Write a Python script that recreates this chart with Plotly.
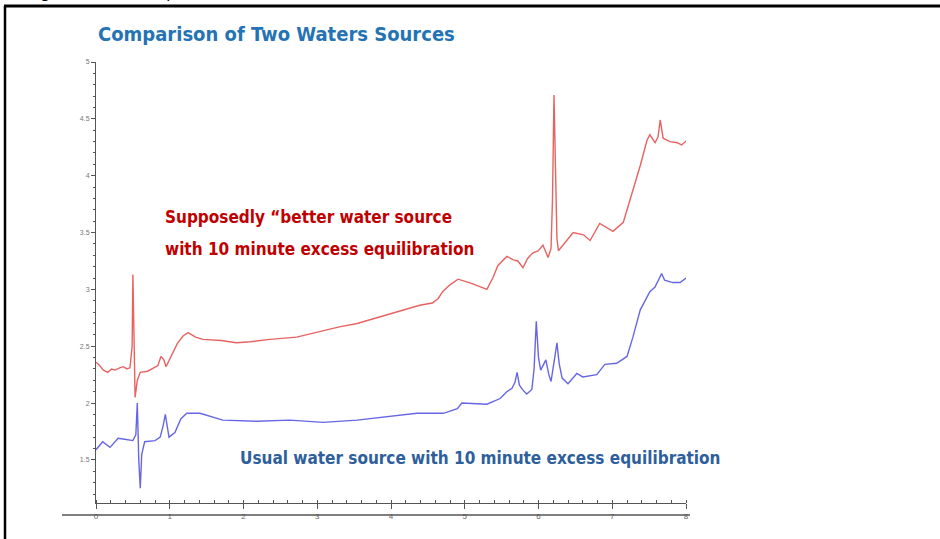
import plotly.graph_objects as go

# ---- data ----
red_t = [0.00, 0.05, 0.10, 0.16, 0.21, 0.26, 0.32, 0.37, 0.42, 0.46, 0.49, 0.50, 0.515, 0.53, 0.56, 0.60,
         0.70, 0.78, 0.84, 0.88, 0.92, 0.95, 1.02, 1.10, 1.18, 1.25, 1.35, 1.45, 1.70, 1.90, 2.10, 2.36,
         2.72, 3.08, 3.30, 3.54, 3.85, 4.16, 4.39, 4.56, 4.64, 4.70, 4.80, 4.91, 5.10, 5.30, 5.38, 5.45,
         5.57, 5.66, 5.72, 5.79, 5.85, 5.92, 6.00, 6.06, 6.13, 6.17, 6.19, 6.21, 6.23, 6.25, 6.27, 6.35,
         6.47, 6.61, 6.70, 6.83, 6.93, 7.01, 7.15, 7.21, 7.28, 7.34, 7.38, 7.47, 7.51, 7.58, 7.62, 7.65,
         7.69, 7.78, 7.88, 7.94, 8.01]
red_y = [2.36, 2.33, 2.29, 2.27, 2.30, 2.29, 2.31, 2.32, 2.30, 2.31, 2.50, 3.13, 2.60, 2.05, 2.20, 2.27,
         2.28, 2.31, 2.33, 2.41, 2.38, 2.32, 2.42, 2.52, 2.59, 2.62, 2.58, 2.56, 2.55, 2.53, 2.54, 2.56,
         2.58, 2.64, 2.67, 2.70, 2.76, 2.82, 2.86, 2.88, 2.92, 2.98, 3.04, 3.09, 3.05, 3.00, 3.10, 3.21,
         3.29, 3.26, 3.25, 3.19, 3.27, 3.32, 3.34, 3.39, 3.28, 3.36, 3.80, 4.71, 3.90, 3.45, 3.34, 3.40,
         3.50, 3.48, 3.43, 3.58, 3.54, 3.51, 3.59, 3.72, 3.88, 3.99, 4.09, 4.31, 4.36, 4.29, 4.34, 4.49,
         4.33, 4.30, 4.29, 4.27, 4.31]

blue_t = [0.00, 0.09, 0.19, 0.30, 0.41, 0.50, 0.54, 0.56, 0.58, 0.60, 0.62, 0.66, 0.80, 0.87, 0.91, 0.94,
          0.97, 0.99, 1.07, 1.15, 1.23, 1.41, 1.72, 2.18, 2.63, 3.08, 3.54, 3.99, 4.35, 4.71, 4.90, 4.96,
          5.30, 5.48, 5.57, 5.64, 5.68, 5.71, 5.74, 5.78, 5.84, 5.91, 5.94, 5.97, 6.00, 6.03, 6.07, 6.10,
          6.14, 6.17, 6.22, 6.25, 6.28, 6.32, 6.40, 6.52, 6.60, 6.79, 6.90, 7.06, 7.20, 7.28, 7.38, 7.51,
          7.58, 7.67, 7.71, 7.82, 7.92, 8.00]
blue_y = [1.59, 1.66, 1.61, 1.69, 1.68, 1.67, 1.72, 2.00, 1.50, 1.25, 1.55, 1.66, 1.67, 1.70, 1.80, 1.90,
          1.78, 1.70, 1.74, 1.86, 1.91, 1.91, 1.85, 1.84, 1.85, 1.83, 1.85, 1.88, 1.91, 1.91, 1.95, 2.00,
          1.99, 2.04, 2.10, 2.13, 2.18, 2.27, 2.16, 2.12, 2.08, 2.12, 2.30, 2.72, 2.40, 2.29, 2.34, 2.38,
          2.25, 2.19, 2.40, 2.53, 2.35, 2.22, 2.17, 2.26, 2.23, 2.25, 2.34, 2.35, 2.41, 2.58, 2.82, 2.98,
          3.02, 3.14, 3.08, 3.06, 3.06, 3.10]

x_tick_vals = [0, 1, 2, 3, 4, 5, 6, 7, 8]
x_tick_text = ["0", "1", "2", "3", "4", "5", "6", "7", "8"]
y_tick_vals = [1.5, 2, 2.5, 3, 3.5, 4, 4.5, 5]
y_tick_text = ["1.5", "2", "2.5", "3", "3.5", "4", "4.5", "5"]

title_text = "Comparison of Two Waters Sources"
red_label_1 = "Supposedly \u201cbetter water source"
red_label_2 = "with 10 minute excess equilibration"
blue_label = "Usual water source with 10 minute excess equilibration"
caption = "<b>Figure 4.</b>         Comparison of two water sources"

# ---- layout geometry (pixels) ----
W, H = 940, 539
L, R, T, B = 96, 254, 62, 36
PW, PH = W - L - R, H - T - B


def px(x):
    return (x - L) / PW


def py(y):
    return (H - B - y) / PH


COND = "DejaVu Sans Condensed, Liberation Sans Narrow, Arial Narrow, sans-serif"

fig = go.Figure()
fig.add_trace(go.Scatter(x=blue_t, y=blue_y, mode="lines",
                         line=dict(color="rgba(75,75,225,0.85)", width=1.4), showlegend=False))
fig.add_trace(go.Scatter(x=red_t, y=red_y, mode="lines",
                         line=dict(color="rgba(228,70,70,0.85)", width=1.4), showlegend=False))

fig.update_layout(
    width=W, height=H,
    margin=dict(l=L, r=R, t=T, b=B, pad=0),
    paper_bgcolor="white", plot_bgcolor="white",
    showlegend=False,
    xaxis=dict(range=[0, 8], showgrid=False, zeroline=False, showline=True, linecolor="#555",
               linewidth=1, ticks="outside", ticklen=5, tickcolor="#555", tickwidth=1,
               tickvals=x_tick_vals, ticktext=x_tick_text,
               tickfont=dict(size=8, color="#666", family="Arial, Liberation Sans"),
               minor=dict(dtick=0.2, ticks="inside", ticklen=3, tickcolor="#555", showgrid=False)),
    yaxis=dict(range=[1.121, 5], showgrid=False, zeroline=False, showline=True, linecolor="#555",
               linewidth=1, ticks="outside", ticklen=4, tickcolor="#555", tickwidth=1,
               tickvals=y_tick_vals, ticktext=y_tick_text,
               tickfont=dict(size=7, color="#777", family="Arial, Liberation Sans"),
               minor=dict(dtick=0.1, ticks="outside", ticklen=2, tickcolor="#555", showgrid=False)),
)

shapes = [
    # second baseline below x labels
    dict(type="line", xref="paper", yref="paper", x0=px(62), x1=px(690), y0=py(515), y1=py(515),
         line=dict(color="#555", width=1.3)),
    # page frame
    dict(type="line", xref="paper", yref="paper", x0=px(4), x1=px(942), y0=py(6), y1=py(6),
         line=dict(color="black", width=3)),
    dict(type="line", xref="paper", yref="paper", x0=px(5), x1=px(5), y0=py(6), y1=py(545),
         line=dict(color="black", width=2.5)),
]
fig.update_layout(shapes=shapes)

annotations = [
    dict(text="<b>" + title_text + "</b>", xref="paper", yref="paper", x=px(96), y=py(34),
         xanchor="left", yanchor="middle", showarrow=False,
         font=dict(size=20, color="#2473b5", family=COND)),
    dict(text="<b>" + red_label_1 + "</b>", xref="paper", yref="paper", x=px(163), y=py(217),
         xanchor="left", yanchor="middle", align="left", showarrow=False,
         font=dict(size=17, color="#c00000", family=COND)),
    dict(text="<b>" + red_label_2 + "</b>", xref="paper", yref="paper", x=px(163), y=py(249),
         xanchor="left", yanchor="middle", align="left", showarrow=False,
         font=dict(size=17, color="#c00000", family=COND)),
    dict(text="<b>" + blue_label + "</b>", xref="paper", yref="paper", x=px(238), y=py(458),
         xanchor="left", yanchor="middle", showarrow=False,
         font=dict(size=17, color="#2e5f9c", family=COND)),
    dict(text=caption, xref="paper", yref="paper", x=px(24), y=py(3),
         xanchor="left", yanchor="bottom", showarrow=False,
         font=dict(size=16, color="black", family="Arial, Liberation Sans")),
]
fig.update_layout(annotations=annotations)

fig.write_html("out.html", config={"displayModeBar": False},
               post_script="document.body.style.margin='0';document.body.style.overflow='hidden';")
